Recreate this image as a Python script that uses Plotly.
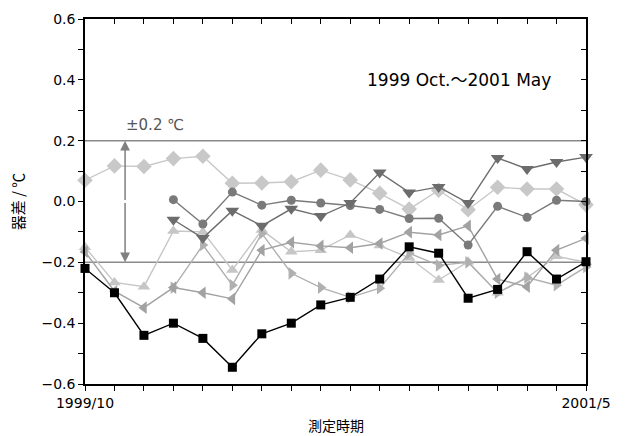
import plotly.graph_objects as go

months = list(range(18))
x_tick_vals = [0, 17]
x_tick_text = ["1999/10", "2001/5"]

diamonds = [0.07, 0.117, 0.115, 0.141, 0.149, 0.06, 0.061, 0.065, 0.103, 0.071, 0.027, -0.025, 0.037, -0.027, 0.047, 0.041, 0.041, -0.011]
circles = [None, None, None, 0.006, -0.074, 0.031, -0.012, 0.004, -0.005, -0.013, -0.026, -0.056, -0.055, -0.143, -0.016, -0.052, 0.004, 0.0]
down_tri = [None, None, None, -0.06, -0.12, -0.03, -0.08, -0.024, -0.048, -0.005, 0.095, 0.03, 0.048, -0.005, 0.143, 0.107, 0.13, 0.146]
up_tri = [-0.15, -0.266, -0.28, -0.097, -0.10, -0.225, -0.094, -0.165, -0.16, -0.11, -0.145, -0.185, -0.258, -0.198, -0.30, -0.25, -0.18, -0.20]
left_tri = [-0.165, -0.295, -0.349, -0.283, -0.30, -0.32, -0.16, -0.134, -0.146, -0.152, -0.138, -0.101, -0.11, -0.08, -0.255, -0.28, -0.16, -0.121]
right_tri = [None, None, None, -0.283, -0.143, -0.275, -0.105, -0.236, -0.283, -0.315, -0.285, -0.17, -0.21, -0.20, -0.30, -0.25, -0.275, -0.215]
squares = [-0.22, -0.30, -0.44, -0.40, -0.45, -0.545, -0.435, -0.40, -0.34, -0.315, -0.255, -0.149, -0.17, -0.318, -0.289, -0.165, -0.255, -0.198]

y_tick_vals = [round(-0.6 + 0.1 * i, 1) for i in range(13)]
y_tick_text = [("−" if v < 0 else "") + f"{abs(v):.1f}" if i % 2 == 0 else "" for i, v in enumerate(y_tick_vals)]

series = [
    (diamonds, "diamond", "#c8c8c8", 12),
    (up_tri, "triangle-up", "#c6c6c6", 11),
    (right_tri, "triangle-right", "#b0b0b0", 11),
    (left_tri, "triangle-left", "#a2a2a2", 11),
    (circles, "circle", "#7a7a7a", 9),
    (down_tri, "triangle-down", "#6c6c6c", 12),
    (squares, "square", "#000000", 9),
]

fig = go.Figure()
for vals, sym, col, sz in series:
    fig.add_trace(go.Scatter(
        x=months, y=vals, mode="lines+markers",
        line=dict(color=col, width=1.4),
        marker=dict(symbol=sym, color=col, size=sz, line=dict(width=0)),
        connectgaps=False, showlegend=False, hoverinfo="skip", cliponaxis=False,
    ))

fig.add_trace(go.Scatter(x=[0], y=[0], xaxis="x2", yaxis="y2", mode="markers",
                         marker=dict(opacity=0), showlegend=False, hoverinfo="skip"))

font_main = "DejaVu Sans, Noto Sans CJK JP, sans-serif"
font_jp = "Noto Sans CJK JP, sans-serif"

common = dict(showgrid=False, zeroline=False, showline=True, linecolor="#000", linewidth=1.5,
              tickcolor="#000", ticklen=5, automargin=False)

fig.update_layout(
    width=625, height=436,
    margin=dict(l=85, r=39, t=19, b=52),
    paper_bgcolor="white", plot_bgcolor="white",
    font=dict(family=font_main, size=14, color="#000000"),
    xaxis=dict(range=[0, 17], tickmode="array", tickvals=months,
               ticktext=[x_tick_text[x_tick_vals.index(m)] if m in x_tick_vals else "" for m in months],
               ticks="outside", tickfont=dict(size=14), **common),
    xaxis2=dict(range=[0, 17], overlaying="x", side="top", tickmode="array", tickvals=months,
                ticks="inside", showticklabels=False, **common),
    yaxis=dict(range=[-0.6, 0.6], tickmode="array", tickvals=y_tick_vals, ticktext=y_tick_text,
               ticks="outside", tickfont=dict(size=14), **common),
    yaxis2=dict(range=[-0.6, 0.6], overlaying="y", side="right", tickmode="array", tickvals=y_tick_vals,
                ticks="inside", showticklabels=False, **common),
)

for yv in (0.2, -0.2):
    fig.add_shape(type="line", xref="paper", x0=0, x1=1, yref="y", y0=yv, y1=yv,
                  line=dict(color="#8a8a8a", width=1.5), layer="below")

arrow_x = 1.36
for yv in (0.2, -0.2):
    fig.add_annotation(x=arrow_x, y=yv, ax=arrow_x, ay=0, xref="x", yref="y", axref="x", ayref="y",
                       text="", showarrow=True, arrowhead=2, arrowsize=1.3, arrowwidth=1.5,
                       arrowcolor="#808080", standoff=0, startstandoff=0)

fig.add_annotation(x=2.37, y=0.251, xref="x", yref="y", text="±0.2 ℃", showarrow=False,
                   font=dict(size=15, color="#555555", family=font_main))
fig.add_annotation(x=12.7, y=0.40, xref="x", yref="y", text="1999 Oct.～2001 May", showarrow=False,
                   font=dict(size=17, color="#000000", family=font_main))

fig.add_annotation(x=0.5, y=-0.112, xref="paper", yref="paper", text="測定時期", showarrow=False,
                   font=dict(size=14, family=font_jp, color="#000"), yanchor="middle")
fig.add_annotation(x=-0.134, y=0.5, xref="paper", yref="paper", text="器差 / ℃", showarrow=False,
                   textangle=-90, font=dict(size=15, family=font_jp, color="#000"), xanchor="center")

fig.write_html("out.html", config={"displayModeBar": False},
               post_script="document.body.style.margin='0';document.body.style.padding='0';")
